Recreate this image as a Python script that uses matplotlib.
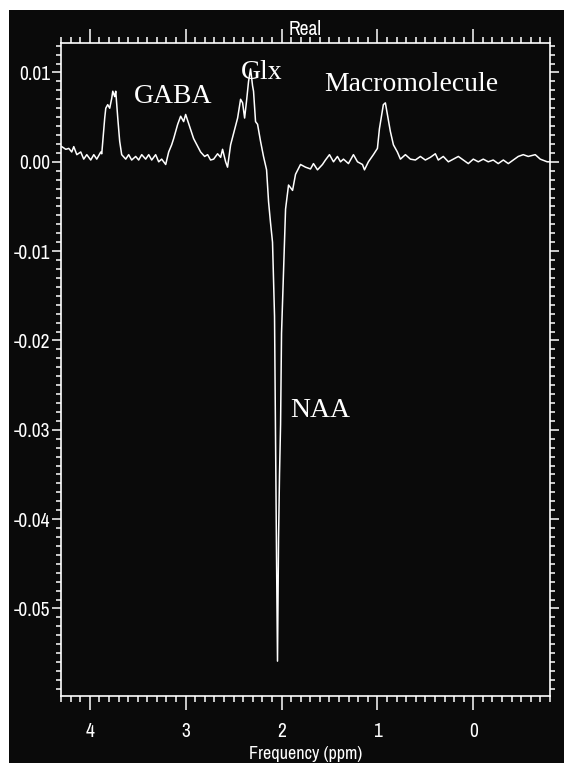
import matplotlib
matplotlib.use('Agg')
import matplotlib.pyplot as plt
from matplotlib.patches import Rectangle
from matplotlib.ticker import MultipleLocator, FuncFormatter, FormatStrFormatter

# spectrum (ppm, real amplitude)
ppm = [4.292, 4.250, 4.219, 4.188, 4.167, 4.135, 4.094, 4.063, 4.031, 3.990,
       3.958, 3.927, 3.885, 3.875, 3.844, 3.833, 3.813, 3.792, 3.771, 3.760,
       3.740, 3.729, 3.708, 3.688, 3.667, 3.625, 3.594, 3.563, 3.521, 3.490,
       3.458, 3.417, 3.385, 3.354, 3.313, 3.281, 3.250, 3.208, 3.177, 3.146,
       3.125, 3.083, 3.052, 3.021, 3.000, 2.969, 2.917, 2.844, 2.802, 2.771,
       2.740, 2.708, 2.667, 2.635, 2.615, 2.583, 2.563, 2.531, 2.490, 2.458,
       2.427, 2.406, 2.385, 2.365, 2.344, 2.323, 2.302, 2.292, 2.271, 2.250,
       2.219, 2.188, 2.156, 2.135, 2.115, 2.094, 2.083, 2.073, 2.063, 2.052,
       2.042, 2.031, 2.021, 2.010, 2.000, 1.990, 1.958, 1.927, 1.906, 1.885,
       1.854, 1.802, 1.750, 1.698, 1.667, 1.625, 1.573, 1.542, 1.500, 1.458,
       1.417, 1.385, 1.354, 1.302, 1.250, 1.208, 1.156, 1.135, 1.094, 1.042,
       1.000, 0.979, 0.938, 0.917, 0.896, 0.865, 0.833, 0.792, 0.760, 0.708,
       0.656, 0.604, 0.552, 0.500, 0.448, 0.396, 0.365, 0.313, 0.260, 0.208,
       0.156, 0.104, 0.052, 0.000, -0.052, -0.104, -0.156, -0.208, -0.260, -0.313,
       -0.365, -0.417, -0.469, -0.521, -0.573, -0.646, -0.698, -0.771, -0.802]

real = [0.0017, 0.0014, 0.0015, 0.0011, 0.0017, 0.0008, 0.0011, 0.0003, 0.0008, 0.0002,
        0.0008, 0.0003, 0.0011, 0.0009, 0.0049, 0.0060, 0.0064, 0.0060, 0.0071, 0.0079,
        0.0073, 0.0079, 0.0049, 0.0023, 0.0008, 0.0003, 0.0008, 0.0002, 0.0006, 0.0002,
        0.0008, 0.0003, 0.0008, 0.0002, 0.0008, 0.0000, 0.0003, -0.0003, 0.0011, 0.0019,
        0.0026, 0.0042, 0.0051, 0.0045, 0.0053, 0.0043, 0.0026, 0.0011, 0.0006, 0.0008,
        0.0002, 0.0003, 0.0009, 0.0005, 0.0014, 0.0000, -0.0006, 0.0019, 0.0036, 0.0049,
        0.0070, 0.0066, 0.0049, 0.0068, 0.0090, 0.0104, 0.0085, 0.0079, 0.0045, 0.0042,
        0.0023, 0.0006, -0.0009, -0.0045, -0.0068, -0.0090, -0.0136, -0.0173, -0.0305, -0.0444,
        -0.0559, -0.0421, -0.0350, -0.0294, -0.0192, -0.0158, -0.0053, -0.0026, -0.0029, -0.0032,
        -0.0014, -0.0003, -0.0006, -0.0008, -0.0002, -0.0009, -0.0003, 0.0002, 0.0008, 0.0000,
        0.0006, 0.0000, 0.0003, -0.0002, 0.0008, 0.0000, -0.0003, -0.0009, 0.0000, 0.0008,
        0.0015, 0.0037, 0.0064, 0.0066, 0.0053, 0.0034, 0.0019, 0.0011, 0.0003, 0.0008,
        0.0003, 0.0002, 0.0006, 0.0002, 0.0005, 0.0009, 0.0002, 0.0006, 0.0000, 0.0003,
        0.0006, 0.0002, -0.0002, 0.0003, 0.0000, 0.0003, 0.0000, 0.0002, -0.0002, 0.0002,
        -0.0002, 0.0002, 0.0006, 0.0008, 0.0006, 0.0008, 0.0003, 0.0000, 0.0000]

peak_names = ['GABA', 'Glx', 'Macromolecule', 'NAA']
peak_ppm = [3.135, 2.208, 0.646, 1.594]
peak_amp = [0.0066, 0.0093, 0.0079, -0.0286]

tick_font = ['Archivo Narrow', 'DejaVu Sans']
fg = 'white'
bg = '#0a0a0a'


def fmt_y(v, pos):
    if abs(v) < 1e-9:
        v = 0.0
    return '%.2f' % v


fig = plt.figure(figsize=(5.64, 7.63), dpi=100, facecolor='white')
fig.patches.append(Rectangle((9/564, 0), 1, 1 - 10/763, transform=fig.transFigure,
                             facecolor=bg, edgecolor='none', zorder=-1))
ax = fig.add_axes([61/564, 1 - 696/763, 489/564, 653/763])
ax.set_facecolor(bg)

ax.plot(ppm, real, color=fg, lw=1.1)

ax.set_xlim(4.3, -0.8)
ax.set_ylim(-0.0598, 0.0133)
ax.xaxis.set_major_locator(MultipleLocator(1))
ax.xaxis.set_minor_locator(MultipleLocator(0.1))
ax.yaxis.set_major_locator(MultipleLocator(0.01))
ax.yaxis.set_minor_locator(MultipleLocator(0.001))
ax.yaxis.set_major_formatter(FuncFormatter(fmt_y))
ax.xaxis.set_major_formatter(FormatStrFormatter('%d'))

for s in ax.spines.values():
    s.set_color(fg)
    s.set_linewidth(1.2)

ax.tick_params(which='both', direction='out', colors=fg, width=1.1,
               top=True, right=True, labeltop=False, labelright=False)
ax.tick_params(axis='x', which='major', length=10, pad=9, labelsize=14)
ax.tick_params(axis='x', which='minor', length=4)
ax.tick_params(axis='y', which='major', length=6.5, pad=1.5, labelsize=14)
ax.tick_params(axis='y', which='minor', length=3.5)
for lab in ax.get_xticklabels() + ax.get_yticklabels():
    lab.set_family(tick_font)

ax.set_xlabel('Frequency (ppm)', color=fg, fontsize=13, family=tick_font)
ax.xaxis.set_label_coords(0.5, -0.076)
ax.text(0.5, 1 + 8/653, 'Real', transform=ax.transAxes, ha='center', va='baseline',
        color=fg, fontsize=14, family=tick_font)

for name, x, y in zip(peak_names, peak_ppm, peak_amp):
    ax.text(x, y, name, ha='center', va='baseline', color=fg, fontsize=20,
            family='Liberation Serif')

fig.savefig('out.png', dpi=100, facecolor=fig.get_facecolor())
